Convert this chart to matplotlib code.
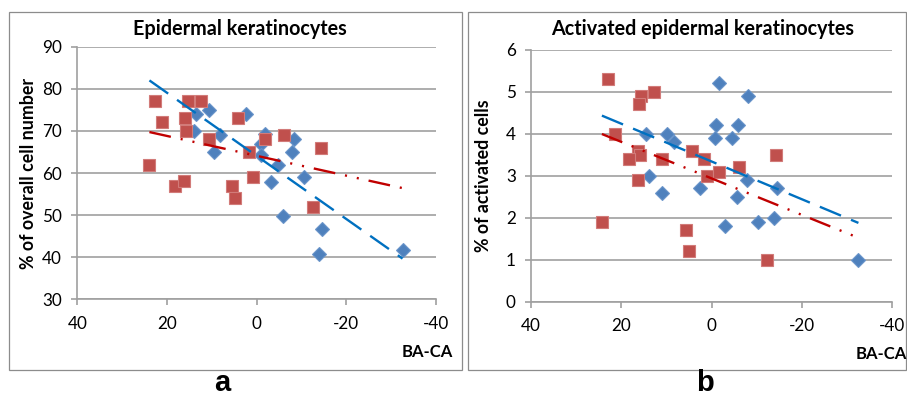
import matplotlib
matplotlib.use("Agg")
import matplotlib.pyplot as plt
from matplotlib.patches import Rectangle
import numpy as np

plt.rcParams['font.family'] = ['Lato', 'DejaVu Sans']
plt.rcParams['axes.unicode_minus'] = False
plt.rcParams['lines.scale_dashes'] = False

# ---- data -------------------------------------------------------------
# Panel a: epidermal keratinocytes (% of overall cell number) vs BA-CA
a_blue_x = [13.4, 10.7, 2.3, 14.0, 8.1, 9.4, -1.9, -1.0, -8.4, -7.9, -1.0,
            -4.7, -3.2, -10.5, -6.0, -14.7, -14.0, -32.6]
a_blue_y = [74.0, 75.0, 73.9, 70.0, 69.0, 64.9, 69.2, 66.8, 68.0, 64.9, 64.2,
            61.8, 57.9, 59.0, 49.7, 46.7, 40.8, 41.8]
a_red_x = [23.9, 22.6, 21.1, 18.1, 16.1, 15.3, 15.9, 15.8, 12.4, 10.7, 5.5,
           4.9, 4.1, 1.6, 0.7, -1.9, -6.2, -12.5, -14.4]
a_red_y = [62, 77, 72, 57, 58, 77, 73, 70, 77, 68, 57,
           54, 73, 65, 59, 68, 69, 52, 66]

# Panel b: activated epidermal keratinocytes (% of activated cells) vs BA-CA
b_blue_x = [14.6, 9.8, 8.3, 13.9, 11.0, 2.6, -1.7, -8.1, -1.0, -5.9, -0.75,
            -4.6, -7.8, -5.6, -14.5, -3.0, -10.3, -13.8, -32.5]
b_blue_y = [4.0, 4.0, 3.8, 3.0, 2.6, 2.7, 5.2, 4.9, 4.2, 4.2, 3.9,
            3.9, 2.9, 2.5, 2.7, 1.8, 1.9, 2.0, 1.0]
b_red_x = [22.9, 15.6, 12.8, 16.1, 21.4, 16.2, 15.9, 18.3, 11.0, 4.4, 1.7,
           1.1, 16.4, 24.3, 5.7, 5.0, -1.7, -6.1, -14.2, -12.3]
b_red_y = [5.3, 4.9, 5.0, 4.7, 4.0, 3.6, 3.5, 3.4, 3.4, 3.6, 3.4,
           3.0, 2.9, 1.9, 1.7, 1.2, 3.1, 3.2, 3.5, 1.0]

x_ticks = [40, 20, 0, -20, -40]
a_y_ticks = [30, 40, 50, 60, 70, 80, 90]
b_y_ticks = [0, 1, 2, 3, 4, 5, 6]

# ---- styling ----------------------------------------------------------
W, H = 907, 399
BLUE_MK, BLUE_MK_EDGE = '#4F81BD', '#6A95CA'
RED_MK, RED_MK_EDGE = '#C0504D', '#D27B79'
BLUE_LN, RED_LN = '#0070C0', '#C00000'
GRID = '#A0A0A0'

fig = plt.figure(figsize=(W / 100, H / 100), dpi=100)


def px_axes(l, t, r, b):
    return fig.add_axes([l / W, 1 - b / H, (r - l) / W, (b - t) / H])


def panel(ax, bx, by, rx, ry, yticks, ylabel, label_x):
    xs_all = np.array(bx + rx)
    xline = np.array([xs_all.max(), xs_all.min()])
    ax.plot(bx, by, linestyle='none', marker='D', markersize=6.9,
            color=BLUE_MK, markeredgecolor=BLUE_MK_EDGE, markeredgewidth=0.8,
            zorder=3)
    ax.plot(rx, ry, linestyle='none', marker='s', markersize=8.2,
            color=RED_MK, markeredgecolor=RED_MK_EDGE, markeredgewidth=0.8,
            zorder=3)
    kb = np.polyfit(bx, by, 1)
    kr = np.polyfit(rx, ry, 1)
    ax.plot(xline, np.polyval(kb, xline), color=BLUE_LN, lw=1.7,
            linestyle=(0, (16.5, 7.8)), dash_capstyle='butt', zorder=4)
    ax.plot(xline, np.polyval(kr, xline), color=RED_LN, lw=1.7,
            linestyle=(0, (15.8, 7.2, 1.5, 7.2, 1.5, 7.2)),
            dash_capstyle='butt', zorder=4)

    ax.set_xlim(40, -40)
    ax.set_ylim(yticks[0], yticks[-1])
    ax.set_xticks(x_ticks)
    ax.set_xticklabels([str(v) for v in x_ticks])
    ax.set_yticks(yticks)
    ax.grid(axis='y', color=GRID, lw=1.2)
    ax.set_axisbelow(True)
    for s in ('top', 'right'):
        ax.spines[s].set_visible(False)
    for s in ('left', 'bottom'):
        ax.spines[s].set_color(GRID)
        ax.spines[s].set_linewidth(1.2)
    ax.tick_params(axis='both', colors=GRID, labelcolor='black',
                   labelsize=12.3, length=4, width=1.2, direction='out')
    ax.tick_params(axis='x', pad=8)
    ax.tick_params(axis='y', pad=7)
    ax.set_ylabel(ylabel, fontsize=12.8, fontweight='bold')
    ax.yaxis.set_label_coords(label_x, 0.5)


ax_a = px_axes(77.3, 46.7, 435.7, 299.3)
panel(ax_a, a_blue_x, a_blue_y, a_red_x, a_red_y, a_y_ticks,
      '% of overall cell number', (37 - 77.3) / 358.4)
ax_b = px_axes(531, 49.7, 892.3, 301.7)
panel(ax_b, b_blue_x, b_blue_y, b_red_x, b_red_y, b_y_ticks,
      '% of activated cells', (492 - 531) / 361.3)

# chart frames
for l, t, r, b in [(9, 12, 462, 370), (468, 12, 906, 370)]:
    fig.add_artist(Rectangle((l / W, 1 - b / H), (r - l) / W, (b - t) / H,
                             transform=fig.transFigure, fill=False,
                             edgecolor='#8C8C8C', lw=0.9))

# titles and axis captions
fig.text(240 / W, 1 - 29 / H, 'Epidermal keratinocytes', ha='center',
         va='center', fontsize=14.2, fontweight='bold')
fig.text(703 / W, 1 - 29 / H, 'Activated epidermal keratinocytes',
         ha='center', va='center', fontsize=14.2, fontweight='bold')
fig.text(427 / W, 1 - 352 / H, 'BA-CA', ha='center', va='center',
         fontsize=12, fontweight='bold')
fig.text(881 / W, 1 - 354 / H, 'BA-CA', ha='center', va='center',
         fontsize=12, fontweight='bold')

# panel letters
fig.text(222 / W, 1 - 383 / H, 'a', ha='center', va='center', fontsize=21,
         fontweight='bold', family=['Liberation Sans', 'DejaVu Sans'])
fig.text(705 / W, 1 - 383 / H, 'b', ha='center', va='center', fontsize=21,
         fontweight='bold', family=['Liberation Sans', 'DejaVu Sans'])

fig.savefig('out.png', dpi=100)
